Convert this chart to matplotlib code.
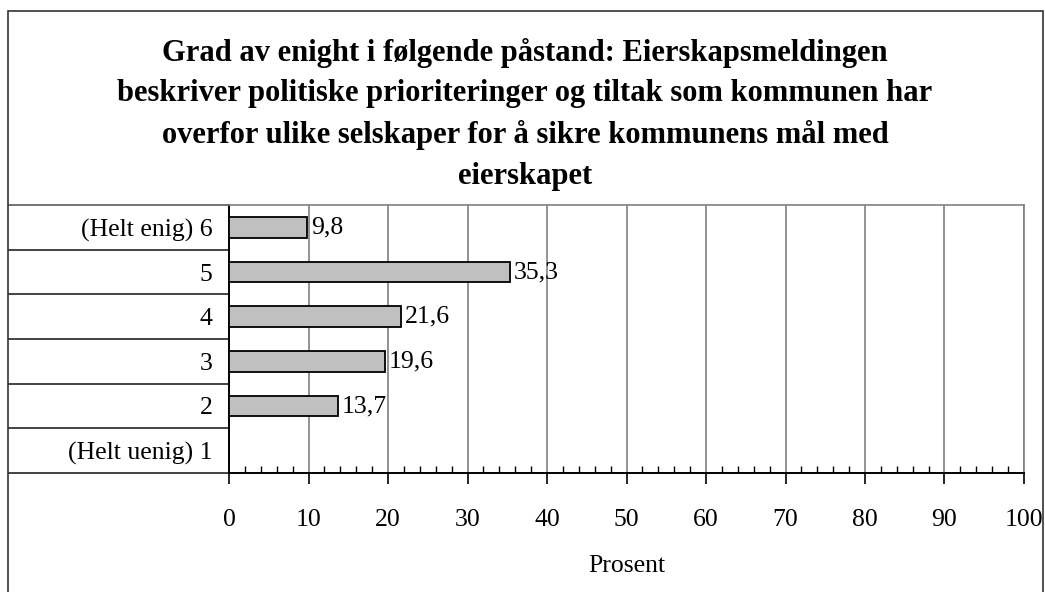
import numpy as np
import matplotlib.pyplot as plt
from matplotlib.patches import Rectangle

plt.rcParams['font.family'] = ['Liberation Serif', 'DejaVu Serif']

# data
kategorier = ['(Helt enig) 6', '5', '4', '3', '2', '(Helt uenig) 1']
prosent = [9.8, 35.3, 21.6, 19.6, 13.7, 0.0]
tittel = ('Grad av enight i følgende påstand: Eierskapsmeldingen\n'
          'beskriver politiske prioriteringer og tiltak som kommunen har\n'
          'overfor ulike selskaper for å sikre kommunens mål med\n'
          'eierskapet')

W, H = 1045, 592
fs = 18.5
fig = plt.figure(figsize=(W / 100, H / 100), dpi=100)
ax = fig.add_axes([229 / W, 1 - 473 / H, (1024 - 229) / W, (473 - 205) / H])

# ramme rundt hele figuren
fig.patches.append(Rectangle((8 / W, -0.05), (1043 - 8) / W, 1.05 - 11 / H,
                             transform=fig.transFigure, fill=False,
                             edgecolor='#333333', lw=1.2))

y = np.arange(len(kategorier))
ax.barh(y, prosent, height=0.47, color='#c0c0c0', edgecolor='black', lw=1.3, zorder=3)

for yi, v in zip(y, prosent):
    if v > 0:
        ax.annotate(f'{v:.1f}'.replace('.', ','), (v, yi), xytext=(3, 0),
                    textcoords='offset points', va='center', ha='left', fontsize=fs)

ax.set_xlim(0, 100)
ax.set_ylim(len(kategorier) - 0.5, -0.5)
ax.set_yticks(y)
ax.set_yticklabels(kategorier, fontsize=fs)
ax.tick_params(axis='y', length=0, pad=12)

ax.set_xticks(np.arange(0, 101, 10))
ax.set_xticks(np.arange(0, 101, 2), minor=True)
ax.tick_params(axis='x', which='major', direction='out', length=8, width=1.2,
               pad=18, labelsize=fs)
ax.tick_params(axis='x', which='minor', direction='in', length=5, width=1.0)
ax.xaxis.grid(True, which='major', color='#808080', lw=1.2, zorder=0)
ax.set_xlabel('Prosent', fontsize=fs, labelpad=17)

for s in ['top', 'right']:
    ax.spines[s].set_color('#808080')
    ax.spines[s].set_linewidth(1.2)
for s in ['left', 'bottom']:
    ax.spines[s].set_linewidth(1.4)

# linjer mellom kategoriene i etikettområdet
grenser = np.arange(len(kategorier) + 1) - 0.5
ax.hlines(grenser, (8 - 229) / (1024 - 229), 0, transform=ax.get_yaxis_transform(),
          colors='#222222', lw=1.2, clip_on=False)
ax.hlines(grenser[0], (8 - 229) / (1024 - 229), 0, transform=ax.get_yaxis_transform(),
          colors='#808080', lw=1.2, clip_on=False)

fig.text(525 / W, 1 - 38 / H, tittel, ha='center', va='top', fontsize=22,
         fontweight='bold', linespacing=1.52)

fig.savefig('out.png', dpi=100)
